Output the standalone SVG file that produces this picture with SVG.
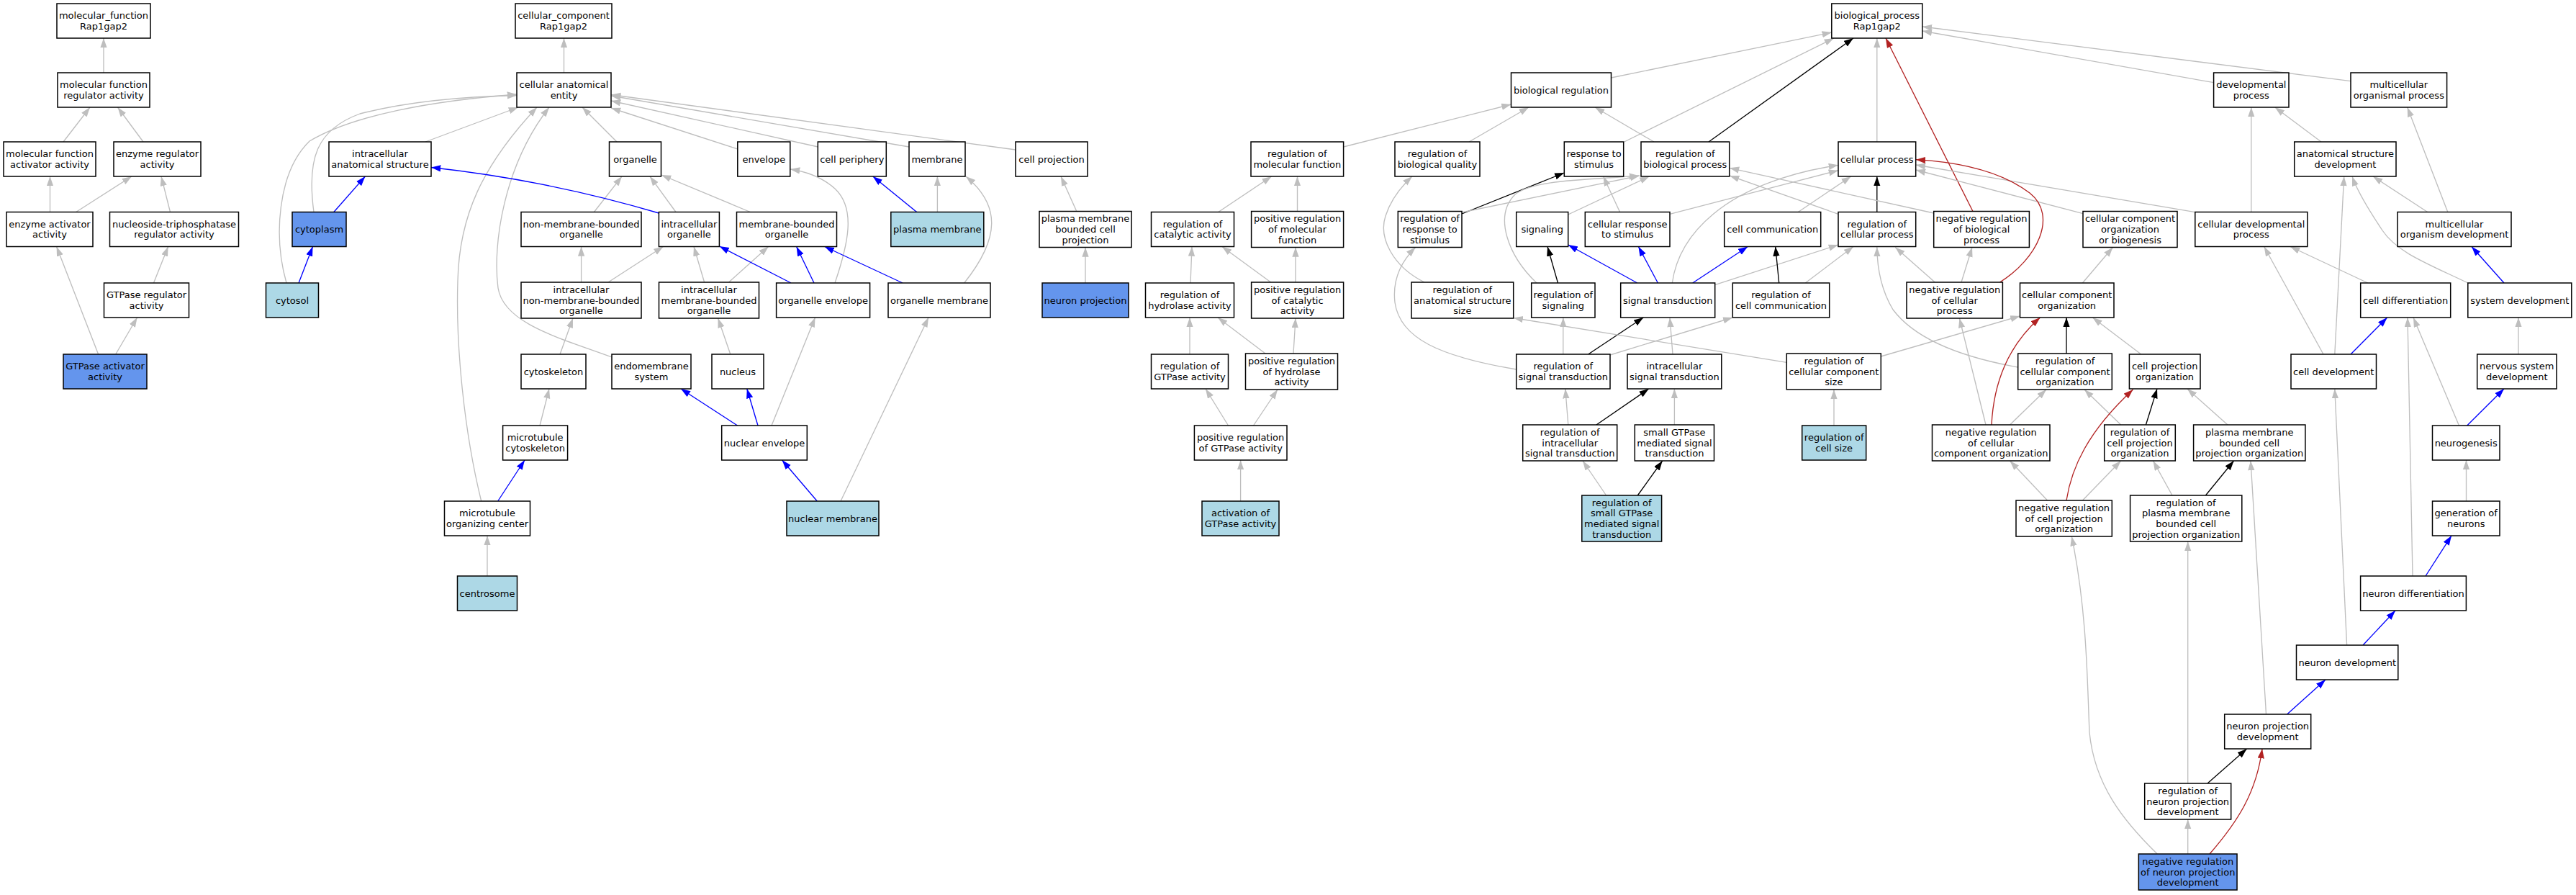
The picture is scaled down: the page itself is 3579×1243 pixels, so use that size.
<svg xmlns="http://www.w3.org/2000/svg" width="3579" height="1243" viewBox="0 0 3579 1243">
<defs>
<marker id="ag" markerUnits="userSpaceOnUse" markerWidth="14" markerHeight="10" refX="13.3" refY="4.67" orient="auto"><path d="M0,0 L13.3,4.67 L0,9.33 Z" fill="#BEBEBE"/></marker>
<marker id="ab" markerUnits="userSpaceOnUse" markerWidth="14" markerHeight="10" refX="13.3" refY="4.67" orient="auto"><path d="M0,0 L13.3,4.67 L0,9.33 Z" fill="#0000FF"/></marker>
<marker id="ak" markerUnits="userSpaceOnUse" markerWidth="14" markerHeight="10" refX="13.3" refY="4.67" orient="auto"><path d="M0,0 L13.3,4.67 L0,9.33 Z" fill="#000000"/></marker>
<marker id="ar" markerUnits="userSpaceOnUse" markerWidth="14" markerHeight="10" refX="13.3" refY="4.67" orient="auto"><path d="M0,0 L13.3,4.67 L0,9.33 Z" fill="#B22222"/></marker>
</defs>
<style>
.nd rect{stroke:#000;stroke-width:1.5}
.w rect{fill:#fff}
.lb rect{fill:#ADD8E6}
.cb rect{fill:#6495ED}
.nd text{font-family:"DejaVu Sans","Liberation Sans",sans-serif;font-size:13px;text-anchor:middle;fill:#000}
#edges path{fill:none;stroke-width:1.33}
#edges .g{stroke:#BEBEBE;marker-end:url(#ag)}
#edges .b{stroke:#0000FF;marker-end:url(#ab)}
#edges .k{stroke:#000000;marker-end:url(#ak)}
#edges .r{stroke:#B22222;marker-end:url(#ar)}
</style>
<rect x="0" y="0" width="3579" height="1243" fill="#fff"/>
<g id="edges">
<path class="g" d="M144,101 L144,53"/>
<path class="g" d="M88,197 L125,149"/>
<path class="g" d="M199,197 L163.5,149"/>
<path class="g" d="M69.5,294.5 L69.5,245"/>
<path class="g" d="M105.6,294.5 L183,245"/>
<path class="g" d="M236.5,294.5 L224,245"/>
<path class="g" d="M213.5,393 L233.6,342.5"/>
<path class="g" d="M136.6,492 L78.6,342.5"/>
<path class="g" d="M160.7,492 L190.6,441"/>
<path class="g" d="M783.5,101 L783.5,53"/>
<path class="g" d="M591,197 L720,149"/>
<path class="g" d="M436,294.5 C426,220 440,180 500,158 C570,140 650,134 718,132.5"/>
<path class="g" d="M398,393 C380,330 385,240 430,196 C490,160 600,140 718,131"/>
<path class="b" d="M463.8,294.5 L507.4,245"/>
<path class="b" d="M415,393 L434.5,342.5"/>
<path class="g" d="M857,197 L809,149"/>
<path class="g" d="M668.7,696 C645,600 633,480 636,390 C638,300 670,230 746,149"/>
<path class="g" d="M850,496 C780,470 700,450 692,400 C684,340 700,230 763,149"/>
<path class="g" d="M825.4,294.5 L864,245"/>
<path class="g" d="M807.6,392 L807.6,342.5"/>
<path class="g" d="M845,392 L921.5,342.5"/>
<path class="g" d="M778,492 L796,442"/>
<path class="g" d="M750,591 L763,540"/>
<path class="b" d="M691.7,696 L729,639"/>
<path class="g" d="M677,800 L677,744"/>
<path class="b" d="M915.5,296 Q760,250 599,232.5"/>
<path class="g" d="M939,294.5 L903,245"/>
<path class="g" d="M1042.4,294.5 L919,243"/>
<path class="g" d="M1025,207 L849,150"/>
<path class="g" d="M1136.5,204 L849,140"/>
<path class="g" d="M1263,204 L849,133"/>
<path class="g" d="M1411,208 L849,131.5"/>
<path class="g" d="M978.6,392 L964,342.5"/>
<path class="g" d="M1012.5,392 L1067.6,342.5"/>
<path class="b" d="M1099,393 L999.5,342"/>
<path class="b" d="M1131,393 L1106.6,342.5"/>
<path class="g" d="M1160,393 C1178,340 1190,290 1160,262 C1140,244 1118,238 1098,235"/>
<path class="b" d="M1254,393 L1145.7,342.5"/>
<path class="g" d="M1339.7,393 C1390,330 1390,285 1342,245"/>
<path class="b" d="M1273.7,294.5 L1212.8,245"/>
<path class="g" d="M1302.4,294.5 L1302.4,245"/>
<path class="g" d="M1495.8,293.5 L1474,245"/>
<path class="g" d="M1508,393 L1508,343.5"/>
<path class="g" d="M1014.8,492 L997.6,442"/>
<path class="b" d="M1024.6,591 L946,540"/>
<path class="b" d="M1053,591 L1037.8,540"/>
<path class="g" d="M1072,591 L1132.5,441"/>
<path class="b" d="M1135.3,696 L1086.6,639"/>
<path class="g" d="M1168,696 L1290,441"/>
<path class="g" d="M1692.7,294.5 L1766.7,245"/>
<path class="g" d="M1802.5,293.5 L1802.5,245"/>
<path class="g" d="M1866.6,204 L2099.5,145"/>
<path class="g" d="M1654,393 L1656,342.5"/>
<path class="g" d="M1765.6,392 L1697.9,342.5"/>
<path class="g" d="M1800,392 L1800,343.5"/>
<path class="g" d="M1653,492 L1653,441"/>
<path class="g" d="M1758,491 L1692,441"/>
<path class="g" d="M1797,491 L1800,442"/>
<path class="g" d="M1706.5,591 L1675,540"/>
<path class="g" d="M1741.5,591 L1775,541"/>
<path class="g" d="M1723.6,696 L1723.6,639"/>
<path class="g" d="M2238.5,108 L2544.8,45"/>
<path class="g" d="M2255.7,197.5 L2548,53"/>
<path class="k" d="M2374,197 L2575,53"/>
<path class="g" d="M2607.8,197 L2607.8,53"/>
<path class="r" d="M2741,293.5 L2620,53"/>
<path class="g" d="M3075.6,114.7 L2670.8,43"/>
<path class="g" d="M3266,112.7 L2670.8,37"/>
<path class="g" d="M2041,197 L2124,149"/>
<path class="g" d="M2298,197 L2216,149"/>
<path class="k" d="M2031,297 L2173.3,240"/>
<path class="g" d="M2031,295 L2278,244"/>
<path class="g" d="M2135,393 C2095,355 2075,300 2105,270 C2130,250 2200,250 2277,244"/>
<path class="g" d="M2178.7,298 L2291.5,245"/>
<path class="g" d="M2250.6,294.5 L2227.6,245"/>
<path class="g" d="M2320,297.3 L2554,236.7"/>
<path class="g" d="M2498.3,294.5 L2571.7,245"/>
<path class="k" d="M2607.8,294.5 L2607.8,245"/>
<path class="g" d="M2554,297.3 L2403,244"/>
<path class="g" d="M2686.7,296 L2403,233.3"/>
<path class="g" d="M2894,296.6 L2661.8,236"/>
<path class="g" d="M3049.8,294.6 L2661.8,229"/>
<path class="g" d="M3127.8,294.5 L3127.8,149"/>
<path class="g" d="M3225,197 L3160.8,149"/>
<path class="g" d="M3400.8,294.5 L3344.7,149"/>
<path class="g" d="M3372.7,294.5 L3297,245"/>
<path class="g" d="M1979,392 C1935,370 1915,330 1925,300 C1932,278 1948,258 1962,245"/>
<path class="k" d="M2164.5,393 L2150,342.5"/>
<path class="b" d="M2274.7,393 L2178.7,340"/>
<path class="b" d="M2303.4,393 L2276.4,342.5"/>
<path class="b" d="M2351.7,393 L2428.3,342.5"/>
<path class="g" d="M2323.3,393 C2332,330 2390,255 2554,229.3"/>
<path class="g" d="M2382.7,395.7 L2554,340"/>
<path class="k" d="M2471.7,393 L2466.7,342.5"/>
<path class="g" d="M2508.3,393 L2575,342.5"/>
<path class="g" d="M2688.3,392 L2633.3,343.5"/>
<path class="g" d="M2725,392 L2740,343.5"/>
<path class="r" d="M2778.5,392 C2830,360 2860,300 2820,268 C2780,238 2720,225 2661.8,221.7"/>
<path class="g" d="M2893.4,393 L2935.5,343.5"/>
<path class="g" d="M3289.8,393 L3182,342.5"/>
<path class="g" d="M3428.8,393 C3370,365 3330,350 3310,320 C3290,290 3275,265 3268,245"/>
<path class="b" d="M3479,393 L3434,342.5"/>
<path class="g" d="M3499,492 L3499,441"/>
<path class="g" d="M2171.8,492 L2171.8,441"/>
<path class="k" d="M2206.7,492 L2283.3,441"/>
<path class="g" d="M2106.7,513 C2000,495 1945,470 1938,420 C1934,385 1950,360 1966.7,343.5"/>
<path class="g" d="M2237,493 L2407.3,441"/>
<path class="g" d="M2324,492 L2320,441"/>
<path class="g" d="M2482.3,503.3 L2102.7,441.5"/>
<path class="g" d="M2613.3,495 L2806.5,439"/>
<path class="k" d="M2871,491 L2871,441"/>
<path class="g" d="M2803.7,510 C2720,495 2660,470 2630,430 C2612,400 2608,370 2607.8,343"/>
<path class="g" d="M2974.7,492 L2907.4,441"/>
<path class="g" d="M3228,492 L3145.7,342.5"/>
<path class="g" d="M3243.8,492 L3256.7,245"/>
<path class="b" d="M3266,492 L3316.7,441"/>
<path class="g" d="M2178.8,590 L2174.8,540"/>
<path class="k" d="M2218,590 L2290.8,540"/>
<path class="g" d="M2326.4,590 L2326.4,540"/>
<path class="g" d="M2548,591 L2548,541"/>
<path class="r" d="M2767,590 C2770,530 2790,480 2834.5,441"/>
<path class="g" d="M2759,590 L2722.4,442"/>
<path class="g" d="M2792.5,590 L2843,541"/>
<path class="g" d="M2946.7,590 L2896,541"/>
<path class="k" d="M2981.4,590 L2997,540"/>
<path class="g" d="M3095,590 L3039,540"/>
<path class="b" d="M3427.7,591 L3479,540"/>
<path class="g" d="M3416.5,591 L3353,441"/>
<path class="g" d="M2231.6,688 L2199,640"/>
<path class="k" d="M2275.3,688 L2309.7,640"/>
<path class="g" d="M2844.6,695 L2792.5,640"/>
<path class="g" d="M2893.4,695 L2946.7,640"/>
<path class="r" d="M2871,695 C2878,650 2900,600 2963.5,541"/>
<path class="g" d="M3018,688 L2991.5,640"/>
<path class="k" d="M3064.4,688 L3103.6,640"/>
<path class="g" d="M3426.5,696 L3426.5,639"/>
<path class="b" d="M3370,800 L3406,744"/>
<path class="g" d="M3352,800 L3345,441"/>
<path class="b" d="M3283,896 L3328,848"/>
<path class="g" d="M3260.6,896 L3243.8,540"/>
<path class="b" d="M3177.6,992 L3231,944"/>
<path class="g" d="M3148.5,992 L3127,640"/>
<path class="k" d="M3067,1088 L3121.6,1040"/>
<path class="g" d="M3039.7,1088 L3039.7,752"/>
<path class="g" d="M3039.7,1186 L3039.7,1138"/>
<path class="r" d="M3070,1186 C3110,1140 3135,1100 3143,1040"/>
<path class="g" d="M2997.2,1186 C2950,1140 2910,1090 2903,1017 C2900,950 2900,850 2878.3,745"/>
</g>
<g id="n1" class="nd w"><rect x="79" y="5" width="130" height="48"/><text x="144" y="26.25">molecular_function</text><text x="144" y="40.95">Rap1gap2</text></g>
<g id="n2" class="nd w"><rect x="80" y="101" width="128" height="48"/><text x="144" y="122.25">molecular function</text><text x="144" y="136.95">regulator activity</text></g>
<g id="n3" class="nd w"><rect x="5" y="197" width="128" height="48"/><text x="69" y="218.25">molecular function</text><text x="69" y="232.95">activator activity</text></g>
<g id="n4" class="nd w"><rect x="158" y="197" width="121" height="48"/><text x="218.5" y="218.25">enzyme regulator</text><text x="218.5" y="232.95">activity</text></g>
<g id="n5" class="nd w"><rect x="9" y="294.5" width="120" height="48"/><text x="69" y="315.75">enzyme activator</text><text x="69" y="330.45">activity</text></g>
<g id="n6" class="nd w"><rect x="152.5" y="294.5" width="179" height="48"/><text x="242" y="315.75">nucleoside-triphosphatase</text><text x="242" y="330.45">regulator activity</text></g>
<g id="n7" class="nd w"><rect x="144.5" y="393" width="118" height="48"/><text x="203.5" y="414.25">GTPase regulator</text><text x="203.5" y="428.95">activity</text></g>
<g id="n8" class="nd cb"><rect x="88" y="492" width="116" height="48"/><text x="146" y="513.25">GTPase activator</text><text x="146" y="527.95">activity</text></g>
<g id="c1" class="nd w"><rect x="716" y="5" width="134" height="48"/><text x="783" y="26.25">cellular_component</text><text x="783" y="40.95">Rap1gap2</text></g>
<g id="c2" class="nd w"><rect x="718" y="101" width="131" height="48"/><text x="783.5" y="122.25">cellular anatomical</text><text x="783.5" y="136.95">entity</text></g>
<g id="c3" class="nd w"><rect x="457" y="197" width="142" height="48"/><text x="528" y="218.25">intracellular</text><text x="528" y="232.95">anatomical structure</text></g>
<g id="c4" class="nd cb"><rect x="406" y="294.5" width="75" height="48"/><text x="443.5" y="323.1">cytoplasm</text></g>
<g id="c5" class="nd lb"><rect x="369.5" y="393" width="73" height="48"/><text x="406" y="421.6">cytosol</text></g>
<g id="c6" class="nd w"><rect x="846.5" y="197" width="72" height="48"/><text x="882.5" y="225.6">organelle</text></g>
<g id="c7" class="nd w"><rect x="1024.8" y="197" width="73" height="48"/><text x="1061.3" y="225.6">envelope</text></g>
<g id="c8" class="nd w"><rect x="1136.3" y="197" width="95" height="48"/><text x="1183.8" y="225.6">cell periphery</text></g>
<g id="c9" class="nd w"><rect x="1263" y="197" width="78" height="48"/><text x="1302" y="225.6">membrane</text></g>
<g id="c10" class="nd w"><rect x="1411" y="197" width="100" height="48"/><text x="1461" y="225.6">cell projection</text></g>
<g id="c11" class="nd w"><rect x="724" y="294.5" width="167" height="48"/><text x="807.5" y="315.75">non-membrane-bounded</text><text x="807.5" y="330.45">organelle</text></g>
<g id="c12" class="nd w"><rect x="915.4" y="294.5" width="84" height="48"/><text x="957.4" y="315.75">intracellular</text><text x="957.4" y="330.45">organelle</text></g>
<g id="c13" class="nd w"><rect x="1023.5" y="294.5" width="139" height="48"/><text x="1093" y="315.75">membrane-bounded</text><text x="1093" y="330.45">organelle</text></g>
<g id="c14" class="nd lb"><rect x="1237.8" y="294.5" width="129" height="48"/><text x="1302.3" y="323.1">plasma membrane</text></g>
<g id="c15" class="nd w"><rect x="1444" y="293.5" width="128" height="50"/><text x="1508" y="308.4">plasma membrane</text><text x="1508" y="323.1">bounded cell</text><text x="1508" y="337.8">projection</text></g>
<g id="c16" class="nd w"><rect x="724" y="392" width="167" height="50"/><text x="807.5" y="406.9">intracellular</text><text x="807.5" y="421.6">non-membrane-bounded</text><text x="807.5" y="436.3">organelle</text></g>
<g id="c17" class="nd w"><rect x="915.5" y="392" width="139" height="50"/><text x="985" y="406.9">intracellular</text><text x="985" y="421.6">membrane-bounded</text><text x="985" y="436.3">organelle</text></g>
<g id="c18" class="nd w"><rect x="1078.6" y="393" width="130" height="48"/><text x="1143.6" y="421.6">organelle envelope</text></g>
<g id="c19" class="nd w"><rect x="1234" y="393" width="142" height="48"/><text x="1305" y="421.6">organelle membrane</text></g>
<g id="c20" class="nd cb"><rect x="1448" y="393" width="120" height="48"/><text x="1508" y="421.6">neuron projection</text></g>
<g id="c21" class="nd w"><rect x="724" y="492" width="90" height="48"/><text x="769" y="520.6">cytoskeleton</text></g>
<g id="c22" class="nd w"><rect x="850" y="492" width="110" height="48"/><text x="905" y="513.25">endomembrane</text><text x="905" y="527.95">system</text></g>
<g id="c23" class="nd w"><rect x="989" y="492" width="72" height="48"/><text x="1025" y="520.6">nucleus</text></g>
<g id="c24" class="nd w"><rect x="698.6" y="591" width="90" height="48"/><text x="743.6" y="612.25">microtubule</text><text x="743.6" y="626.95">cytoskeleton</text></g>
<g id="c25" class="nd w"><rect x="1002.7" y="591" width="118.6" height="48"/><text x="1062" y="619.6">nuclear envelope</text></g>
<g id="c26" class="nd w"><rect x="617.5" y="696" width="119" height="48"/><text x="677" y="717.25">microtubule</text><text x="677" y="731.95">organizing center</text></g>
<g id="c27" class="nd lb"><rect x="1093" y="696" width="128" height="48"/><text x="1157" y="724.6">nuclear membrane</text></g>
<g id="c28" class="nd lb"><rect x="635.5" y="800" width="83" height="48"/><text x="677" y="828.6">centrosome</text></g>
<g id="m1" class="nd w"><rect x="1738" y="197" width="128.6" height="48"/><text x="1802.3" y="218.25">regulation of</text><text x="1802.3" y="232.95">molecular function</text></g>
<g id="m2" class="nd w"><rect x="1599.5" y="294.5" width="115" height="48"/><text x="1657" y="315.75">regulation of</text><text x="1657" y="330.45">catalytic activity</text></g>
<g id="m3" class="nd w"><rect x="1738.6" y="293.5" width="128" height="50"/><text x="1802.6" y="308.4">positive regulation</text><text x="1802.6" y="323.1">of molecular</text><text x="1802.6" y="337.8">function</text></g>
<g id="m4" class="nd w"><rect x="1591.5" y="393" width="123" height="48"/><text x="1653" y="414.25">regulation of</text><text x="1653" y="428.95">hydrolase activity</text></g>
<g id="m5" class="nd w"><rect x="1738.6" y="392" width="128" height="50"/><text x="1802.6" y="406.9">positive regulation</text><text x="1802.6" y="421.6">of catalytic</text><text x="1802.6" y="436.3">activity</text></g>
<g id="m6" class="nd w"><rect x="1599.5" y="492" width="107" height="48"/><text x="1653" y="513.25">regulation of</text><text x="1653" y="527.95">GTPase activity</text></g>
<g id="m7" class="nd w"><rect x="1730.5" y="491" width="128" height="50"/><text x="1794.5" y="505.9">positive regulation</text><text x="1794.5" y="520.6">of hydrolase</text><text x="1794.5" y="535.3">activity</text></g>
<g id="m8" class="nd w"><rect x="1659.4" y="591" width="128.6" height="48"/><text x="1723.7" y="612.25">positive regulation</text><text x="1723.7" y="626.95">of GTPase activity</text></g>
<g id="m9" class="nd lb"><rect x="1670" y="696" width="107" height="48"/><text x="1723.5" y="717.25">activation of</text><text x="1723.5" y="731.95">GTPase activity</text></g>
<g id="b1" class="nd w"><rect x="2544.8" y="5" width="126" height="48"/><text x="2607.8" y="26.25">biological_process</text><text x="2607.8" y="40.95">Rap1gap2</text></g>
<g id="b2" class="nd w"><rect x="2099.5" y="101" width="139" height="48"/><text x="2169" y="129.6">biological regulation</text></g>
<g id="b3" class="nd w"><rect x="3075.6" y="101" width="104.4" height="48"/><text x="3127.8" y="122.25">developmental</text><text x="3127.8" y="136.95">process</text></g>
<g id="b4" class="nd w"><rect x="3266" y="101" width="133.6" height="48"/><text x="3332.8" y="122.25">multicellular</text><text x="3332.8" y="136.95">organismal process</text></g>
<g id="b5" class="nd w"><rect x="1938" y="197" width="118" height="48"/><text x="1997" y="218.25">regulation of</text><text x="1997" y="232.95">biological quality</text></g>
<g id="b6" class="nd w"><rect x="2173.3" y="197" width="82.4" height="48"/><text x="2214.5" y="218.25">response to</text><text x="2214.5" y="232.95">stimulus</text></g>
<g id="b7" class="nd w"><rect x="2280" y="197" width="122.7" height="48"/><text x="2341.3" y="218.25">regulation of</text><text x="2341.3" y="232.95">biological process</text></g>
<g id="b8" class="nd w"><rect x="2554" y="197" width="107.7" height="48"/><text x="2607.8" y="225.6">cellular process</text></g>
<g id="b9" class="nd w"><rect x="3187.7" y="197" width="141.3" height="48"/><text x="3258.4" y="218.25">anatomical structure</text><text x="3258.4" y="232.95">development</text></g>
<g id="b10" class="nd w"><rect x="1942.3" y="293.5" width="88.7" height="50"/><text x="1986.6" y="308.4">regulation of</text><text x="1986.6" y="323.1">response to</text><text x="1986.6" y="337.8">stimulus</text></g>
<g id="b11" class="nd w"><rect x="2106.7" y="294.5" width="72" height="48"/><text x="2142.7" y="323.1">signaling</text></g>
<g id="b12" class="nd w"><rect x="2202.3" y="294.5" width="117.7" height="48"/><text x="2261.2" y="315.75">cellular response</text><text x="2261.2" y="330.45">to stimulus</text></g>
<g id="b13" class="nd w"><rect x="2395.7" y="294.5" width="134" height="48"/><text x="2462.7" y="323.1">cell communication</text></g>
<g id="b14" class="nd w"><rect x="2554" y="294.5" width="107.7" height="48"/><text x="2607.8" y="315.75">regulation of</text><text x="2607.8" y="330.45">cellular process</text></g>
<g id="b15" class="nd w"><rect x="2686.7" y="293.5" width="132.7" height="50"/><text x="2753" y="308.4">negative regulation</text><text x="2753" y="323.1">of biological</text><text x="2753" y="337.8">process</text></g>
<g id="b16" class="nd w"><rect x="2894" y="293.5" width="131" height="50"/><text x="2959.5" y="308.4">cellular component</text><text x="2959.5" y="323.1">organization</text><text x="2959.5" y="337.8">or biogenesis</text></g>
<g id="b17" class="nd w"><rect x="3049.8" y="294.5" width="156" height="48"/><text x="3127.8" y="315.75">cellular developmental</text><text x="3127.8" y="330.45">process</text></g>
<g id="b18" class="nd w"><rect x="3331" y="294.5" width="158" height="48"/><text x="3410" y="315.75">multicellular</text><text x="3410" y="330.45">organism development</text></g>
<g id="b19" class="nd w"><rect x="1961" y="392" width="141.7" height="50"/><text x="2031.8" y="406.9">regulation of</text><text x="2031.8" y="421.6">anatomical structure</text><text x="2031.8" y="436.3">size</text></g>
<g id="b20" class="nd w"><rect x="2127.7" y="393" width="88.3" height="48"/><text x="2171.8" y="414.25">regulation of</text><text x="2171.8" y="428.95">signaling</text></g>
<g id="b21" class="nd w"><rect x="2251.7" y="393" width="131" height="48"/><text x="2317.2" y="421.6">signal transduction</text></g>
<g id="b22" class="nd w"><rect x="2407.3" y="393" width="134.4" height="48"/><text x="2474.5" y="414.25">regulation of</text><text x="2474.5" y="428.95">cell communication</text></g>
<g id="b23" class="nd w"><rect x="2649" y="392" width="133.4" height="50"/><text x="2715.7" y="406.9">negative regulation</text><text x="2715.7" y="421.6">of cellular</text><text x="2715.7" y="436.3">process</text></g>
<g id="b24" class="nd w"><rect x="2806.5" y="393" width="130.5" height="48"/><text x="2871.7" y="414.25">cellular component</text><text x="2871.7" y="428.95">organization</text></g>
<g id="b25" class="nd w"><rect x="3279.7" y="393" width="125" height="48"/><text x="3342.2" y="421.6">cell differentiation</text></g>
<g id="b26" class="nd w"><rect x="3428.8" y="393" width="144" height="48"/><text x="3500.8" y="421.6">system development</text></g>
<g id="b27" class="nd w"><rect x="2106.7" y="492" width="130.3" height="48"/><text x="2171.8" y="513.25">regulation of</text><text x="2171.8" y="527.95">signal transduction</text></g>
<g id="b28" class="nd w"><rect x="2261" y="492" width="130.8" height="48"/><text x="2326.4" y="513.25">intracellular</text><text x="2326.4" y="527.95">signal transduction</text></g>
<g id="b29" class="nd w"><rect x="2482.3" y="491" width="131" height="50"/><text x="2547.8" y="505.9">regulation of</text><text x="2547.8" y="520.6">cellular component</text><text x="2547.8" y="535.3">size</text></g>
<g id="b30" class="nd w"><rect x="2803.7" y="491" width="130.6" height="50"/><text x="2869" y="505.9">regulation of</text><text x="2869" y="520.6">cellular component</text><text x="2869" y="535.3">organization</text></g>
<g id="b31" class="nd w"><rect x="2958.4" y="492" width="98.6" height="48"/><text x="3007.7" y="513.25">cell projection</text><text x="3007.7" y="527.95">organization</text></g>
<g id="b32" class="nd w"><rect x="3183" y="492" width="118.5" height="48"/><text x="3242.2" y="520.6">cell development</text></g>
<g id="b33" class="nd w"><rect x="3441.7" y="492" width="110.3" height="48"/><text x="3496.8" y="513.25">nervous system</text><text x="3496.8" y="527.95">development</text></g>
<g id="b34" class="nd w"><rect x="2115.7" y="590" width="131" height="50"/><text x="2181.2" y="604.9">regulation of</text><text x="2181.2" y="619.6">intracellular</text><text x="2181.2" y="634.3">signal transduction</text></g>
<g id="b35" class="nd w"><rect x="2271.3" y="590" width="110.2" height="50"/><text x="2326.4" y="604.9">small GTPase</text><text x="2326.4" y="619.6">mediated signal</text><text x="2326.4" y="634.3">transduction</text></g>
<g id="b36" class="nd lb"><rect x="2503.7" y="591" width="89" height="48"/><text x="2548.2" y="612.25">regulation of</text><text x="2548.2" y="626.95">cell size</text></g>
<g id="b37" class="nd w"><rect x="2684.5" y="590" width="163.5" height="50"/><text x="2766.2" y="604.9">negative regulation</text><text x="2766.2" y="619.6">of cellular</text><text x="2766.2" y="634.3">component organization</text></g>
<g id="b38" class="nd w"><rect x="2923.7" y="590" width="98.6" height="50"/><text x="2973" y="604.9">regulation of</text><text x="2973" y="619.6">cell projection</text><text x="2973" y="634.3">organization</text></g>
<g id="b39" class="nd w"><rect x="3047.6" y="590" width="155.3" height="50"/><text x="3125.2" y="604.9">plasma membrane</text><text x="3125.2" y="619.6">bounded cell</text><text x="3125.2" y="634.3">projection organization</text></g>
<g id="b40" class="nd w"><rect x="3379.5" y="591" width="93.5" height="48"/><text x="3426.2" y="619.6">neurogenesis</text></g>
<g id="b41" class="nd lb"><rect x="2197.8" y="688" width="110.8" height="64"/><text x="2253.2" y="702.55">regulation of</text><text x="2253.2" y="717.25">small GTPase</text><text x="2253.2" y="731.95">mediated signal</text><text x="2253.2" y="746.65">transduction</text></g>
<g id="b42" class="nd w"><rect x="2801" y="695" width="133.3" height="50"/><text x="2867.6" y="709.9">negative regulation</text><text x="2867.6" y="724.6">of cell projection</text><text x="2867.6" y="739.3">organization</text></g>
<g id="b43" class="nd w"><rect x="2959.6" y="688" width="155.2" height="64"/><text x="3037.2" y="702.55">regulation of</text><text x="3037.2" y="717.25">plasma membrane</text><text x="3037.2" y="731.95">bounded cell</text><text x="3037.2" y="746.65">projection organization</text></g>
<g id="b44" class="nd w"><rect x="3379.5" y="696" width="93.5" height="48"/><text x="3426.2" y="717.25">generation of</text><text x="3426.2" y="731.95">neurons</text></g>
<g id="b45" class="nd w"><rect x="3279.6" y="800" width="146.8" height="48"/><text x="3353" y="828.6">neuron differentiation</text></g>
<g id="b46" class="nd w"><rect x="3190.5" y="896" width="141.3" height="48"/><text x="3261.2" y="924.6">neuron development</text></g>
<g id="b47" class="nd w"><rect x="3090.7" y="992" width="120" height="48"/><text x="3150.7" y="1013.25">neuron projection</text><text x="3150.7" y="1027.95">development</text></g>
<g id="b48" class="nd w"><rect x="2979.7" y="1088" width="120" height="50"/><text x="3039.7" y="1102.9">regulation of</text><text x="3039.7" y="1117.6">neuron projection</text><text x="3039.7" y="1132.3">development</text></g>
<g id="b49" class="nd cb"><rect x="2971.35" y="1186" width="136.7" height="50"/><text x="3039.7" y="1200.9">negative regulation</text><text x="3039.7" y="1215.6">of neuron projection</text><text x="3039.7" y="1230.3">development</text></g>
</svg>
